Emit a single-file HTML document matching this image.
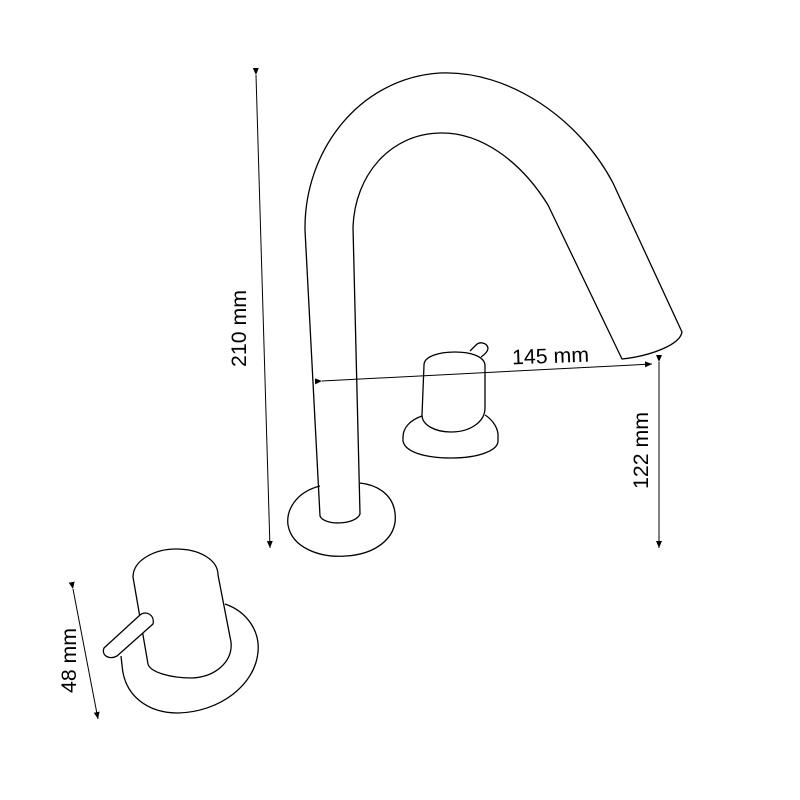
<!DOCTYPE html>
<html><head><style>html,body{margin:0;padding:0;background:#fff}svg{display:block}</style></head>
<body>
<svg width="800" height="800" viewBox="0 0 800 800" xmlns="http://www.w3.org/2000/svg">
<defs>
<marker id="a" markerWidth="8" markerHeight="8" refX="7" refY="4" orient="auto" markerUnits="userSpaceOnUse">
<path d="M0,1 L7,4 L0,7 Z" fill="#000"/></marker>
</defs>
<g fill="none" stroke="#000" stroke-width="1.3" stroke-linejoin="round">
<path d="M320,486 C296,492 286,510 288,525 C292,548 320,558 346,556 C378,554 398,536 395,513 C393,495 378,485 360,483"/>
<path d="M320,516 L305,230 C304,150 360,78 440,73 C510,70 580,120 613,183 L682,332 C680,345 650,356 622,359 L548,205 C520,160 480,132 440,133 C390,134 355,175 353,227 L360,514 C356,525 324,526 320,516 Z"/>
<path d="M422,416 C410,420 403,428 403,437 L403,441 C405,452 425,458 451,458 C480,458 498,450 498,441 L498,434 C497,425 490,418 485,415"/>
<path d="M424,365 C424,356 440,352 455,352 C470,352 484,356 485,365 L485,408 C485,422 470,432 451,432 C435,432 422,425 422,415 Z"/>
<path d="M470,351 L476,345 C480,341 487,343 488,348 C488,352 484,355 481,357"/>
<path d="M225,604 C248,612 260,632 258,652 C255,685 220,712 178,713 C148,713 124,696 122,665 L121,656"/>
<path d="M133,577 C133,560 155,549 176,549 C200,549 218,560 218,575 L231,642 C233,662 215,677 192,678 C170,678 150,672 148,664 L133,577 Z" fill="#fff"/>
<path d="M104,648 L140,615 C146,610 155,615 153,624 L117,656 C110,660 101,656 104,648 Z" fill="#fff"/>
</g>
<g stroke="#000" stroke-width="1">
<line x1="256" y1="75" x2="270" y2="548" marker-start="url(#a)" marker-end="url(#a)"/>
<line x1="322" y1="381" x2="652" y2="364" marker-start="url(#a)" marker-end="url(#a)"/>
<line x1="659" y1="362" x2="659" y2="548" marker-start="url(#a)" marker-end="url(#a)"/>
<line x1="73" y1="589" x2="98" y2="719" marker-start="url(#a)" marker-end="url(#a)"/>
</g>
<g font-family="Liberation Sans, sans-serif" font-size="21" fill="#000">
<text transform="translate(246,367) rotate(-90)" textLength="77" lengthAdjust="spacingAndGlyphs">210 mm</text>
<text x="512" y="363" textLength="77" lengthAdjust="spacingAndGlyphs" transform="rotate(-2 550 355)">145 mm</text>
<text transform="translate(648,489) rotate(-90)" textLength="77" lengthAdjust="spacingAndGlyphs">122 mm</text>
<text transform="translate(76,693) rotate(-90)" textLength="65" lengthAdjust="spacingAndGlyphs">48 mm</text>
</g>
</svg>
</body></html>
